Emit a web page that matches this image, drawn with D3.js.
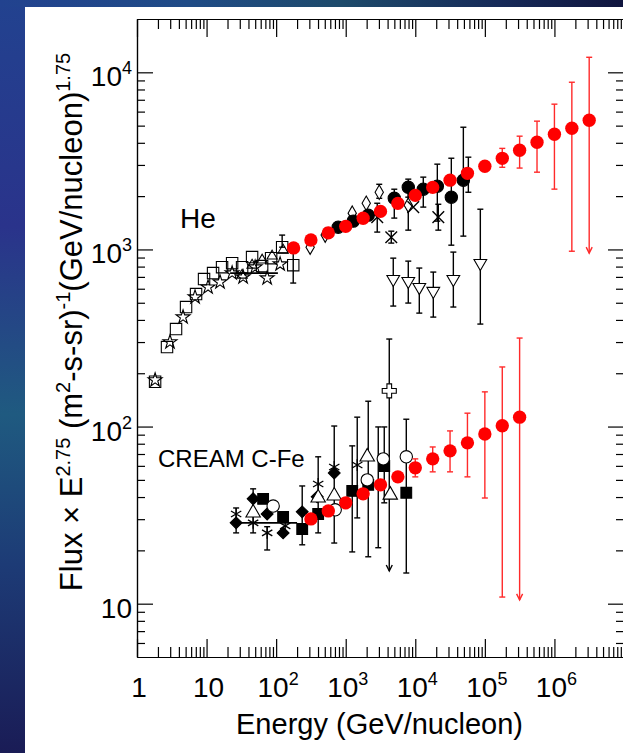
<!DOCTYPE html>
<html>
<head>
<meta charset="utf-8">
<script src="https://cdn.jsdelivr.net/npm/d3@7"></script>
<style>
  body { margin: 0; background: #fff; }
  svg { display: block; }
  text { font-family: "Liberation Sans", Arial, Helvetica, sans-serif; fill: #000; }
</style>
</head>
<body>
<svg id="chart"></svg>
<script>
// ---- data (E in GeV/nucleon, flux x E^2.75) ----
// CREAM helium (red)
const heCreamE = [178, 316, 562, 1000, 1780, 3160, 5620, 1e4, 1.78e4, 3.16e4, 5.62e4, 1e5, 1.78e5, 3.16e5, 5.62e5, 1e6, 1.78e6, 3.16e6];
const heCreamF = [1020, 1130, 1240, 1350, 1500, 1640, 1820, 2020, 2240, 2460, 2690, 2950, 3270, 3630, 4030, 4470, 4830, 5360];
const heCreamLo = [null, null, null, null, null, null, null, null, null, null, null, null, 2910, 2880, 2730, 2190, 977, 953];
const heCreamHi = [null, null, null, null, null, null, null, null, null, null, null, null, 3720, 4360, 5300, 6610, 8790, 12160];
const heCreamArrow = [17];

// CREAM C-Fe (red)
const cfeCreamE = [316, 562, 1000, 1780, 3160, 5620, 1e4, 1.78e4, 3.16e4, 5.62e4, 1e5, 1.78e5, 3.16e5];
const cfeCreamF = [30.1, 33.4, 37.1, 41.7, 46.9, 52.0, 58.5, 65.7, 72.9, 80.9, 90.8, 101, 113];
const cfeCreamLo = [null, null, null, null, null, null, 52.0, 55.5, 55.5, 52.0, 39.5, 10.9, 10.5];
const cfeCreamHi = [null, null, null, null, null, null, 65.7, 76.7, 94.5, 119, 157, 217, 316];
const cfeCreamArrow = [12];

// other helium measurements: [E, F, lo, hi]
const heSquares = [[1.82, 179], [2.70, 281], [3.64, 355], [5.07, 473], [7.06, 560], [9.2, 680], [12.4, 735], [16.7, 794], [23.3, 837], [32.4, 794], [45.1, 906], [62.9, 805], [84.7, 893], [122, 1030, 1030, 1205], [176, 815, 646, 953]];
const heStars = [[1.82, 183], [2.98, 300], [4.59, 415], [6.83, 538], [10.5, 612], [15.6, 654], [23.3, 735], [33.5, 698], [49.9, 794], [74.3, 689], [114, 826]];
const heTriangles = [[32.4, 716], [45.1, 815], [62.9, 871], [87.5, 917], [126, 991]];
const heHBar = [21.8, 106, 735];
const heCircles = [[780, 1336], [1282, 1445], [2108, 1562], [4990, 1945, 1503, 2188], [7930, 2244, 1973, 2494], [13030, 2187, 1734, 2560], [20740, 2275, 1445, 3030], [32960, 1973, 1057, 3273], [49080, 2460, 1189, 4898]];
const heDiamonds = [[308, 1030], [507, 1205], [1241, 1603], [1972, 1824], [3033, 2104, 1945, 2333], [7930, 1778, 1285, 2244]];
const heCrosses = [[2839, 1521, 1253, 1823], [4518, 1172, 1086, 1268], [9357, 1734], [21430, 1521, 1285, 1799]];
const heDownTri = [[4824, 680, 479, 893], [7930, 662, 498, 859], [11420, 612, 437, 785], [18150, 582, 415, 745], [35240, 680, 473, 966], [86100, 837, 379, 1687]];
const heBarsOnly = [[57900, 2693, 2103, 3318]];

// other C-Fe measurements: [E, F, lo, hi]
const cfeDiamonds = [[26.6, 28.6, 25.1, 34.7], [46.7, 39.1, 25.1, 44.5], [74.3, 32.1], [126, 25.1], [237, 33.0, 21.5, 46.2], [389, 40.1], [684, 54.7]];
const cfeStars = [[26.6, 32.1], [46.7, 28.6], [74.3, 25.1, 20.1, 27.2], [135, 27.5], [402, 47.4], [684, 59.1, 22.0, 100.7], [1464, 60.7, 30.5, 113]];
const cfeSquares = [[65.0, 39.1], [126, 30.9], [237, 26.4], [402, 32.1, 25.1, 67.5], [1241, 43.3, 19.6, 77.8], [2108, 46.9, 18.4, 139], [3581, 59.9, 37.1, 99.5], [7425, 42.3, 14.9, 110]];
const cfeTriangles = [[46.7, 32.6], [402, 39.6], [684, 40.6], [2039, 67.5], [4367, 41.1]];
const cfeCircles = [[90.6, 35.6], [706, 33.9], [2039, 50.0], [3464, 65.7], [7425, 67.5]];
const cfeCross = [[4227, 159, 15.3, 312]];
const cfeBarsOnly = [[2936, 45, 20.7, 99.5]];
const cfeHBar = [23.3, 200, 28.6];

const xTickLabels = [["1", null], ["10", null], ["10", "2"], ["10", "3"], ["10", "4"], ["10", "5"], ["10", "6"]];
const xTickValues = [1, 10, 1e2, 1e3, 1e4, 1e5, 1e6];
const yTickValues = [10, 1e2, 1e3, 1e4];
const yTickLabels = [["10", null], ["10", "2"], ["10", "3"], ["10", "4"]];

// ---- layout ----
const width = 623, height = 753;
const plotLeft = 137, plotRight = 624, plotTop = 19, plotBottom = 657;

const svg = d3.select('#chart').attr('width', width).attr('height', height);

// slide background
const defs = svg.append('defs');
const gv = defs.append('linearGradient').attr('id', 'bgv').attr('x1', 0).attr('y1', 0).attr('x2', 0).attr('y2', 1);
[['0', '#22428f'], ['0.3', '#2a338b'], ['0.55', '#1f5a80'], ['0.75', '#1d3b76'], ['1', '#1a1c56']]
  .forEach(([o, c]) => gv.append('stop').attr('offset', o).attr('stop-color', c));
const gh = defs.append('linearGradient').attr('id', 'bgh').attr('x1', 0).attr('y1', 0).attr('x2', 1).attr('y2', 0);
[['0', '#22428f'], ['0.3', '#1f4b86'], ['0.55', '#1d4a6a'], ['0.8', '#162a58'], ['1', '#10153e']]
  .forEach(([o, c]) => gh.append('stop').attr('offset', o).attr('stop-color', c));
svg.append('rect').attr('width', width).attr('height', height).attr('fill', 'url(#bgv)');
svg.append('rect').attr('width', width).attr('height', 7).attr('fill', 'url(#bgh)');
svg.append('rect').attr('x', 25).attr('y', 7).attr('width', width - 25).attr('height', height - 7).attr('fill', '#fff');

const x = d3.scaleLog().domain([1, 1e7]).range([plotLeft, plotRight]);
const y = d3.scaleLog().domain([5, 20000]).range([plotBottom, plotTop]);

function minors(lo, hi) {
  const out = [];
  for (let d = lo; d < hi; d *= 10) for (let m = 2; m <= 9; m++) out.push(m * d);
  return out;
}
const xMinor = minors(1, 1e7);
const yMinor = minors(1, 1e4).filter(v => v > 5 && v < 20000);

const axisStyle = g => g.call(s => s.selectAll('line, path').attr('stroke', '#000').attr('stroke-width', 1.2))
  .call(s => s.selectAll('text').remove());

svg.append('g').attr('transform', `translate(0,${plotBottom})`)
  .call(d3.axisBottom(x).tickValues(xTickValues).tickSize(-18).tickSizeOuter(0)).call(axisStyle);
svg.append('g').attr('transform', `translate(0,${plotBottom})`)
  .call(d3.axisBottom(x).tickValues(xMinor).tickSize(-10).tickSizeOuter(0)).call(axisStyle);
svg.append('g').attr('transform', `translate(0,${plotTop})`)
  .call(d3.axisTop(x).tickValues(xTickValues).tickSize(-18).tickSizeOuter(0)).call(axisStyle);
svg.append('g').attr('transform', `translate(0,${plotTop})`)
  .call(d3.axisTop(x).tickValues(xMinor).tickSize(-10).tickSizeOuter(0)).call(axisStyle);
svg.append('g').attr('transform', `translate(${plotLeft},0)`)
  .call(d3.axisLeft(y).tickValues(yTickValues).tickSize(-16).tickSizeOuter(0)).call(axisStyle);
svg.append('g').attr('transform', `translate(${plotLeft},0)`)
  .call(d3.axisLeft(y).tickValues(yMinor).tickSize(-8).tickSizeOuter(0)).call(axisStyle);
svg.append('g').attr('transform', `translate(${plotRight},0)`)
  .call(d3.axisRight(y).tickValues(yTickValues).tickSize(-16).tickSizeOuter(0)).call(axisStyle);
svg.append('g').attr('transform', `translate(${plotRight},0)`)
  .call(d3.axisRight(y).tickValues(yMinor).tickSize(-8).tickSizeOuter(0)).call(axisStyle);

// tick labels with superscripts
function powLabel(sel, base, exp) {
  sel.append('tspan').text(base);
  if (exp) sel.append('tspan').attr('dy', -12).style('font-size', '18px').text(exp);
}
xTickValues.forEach((v, i) => {
  const t = svg.append('text').attr('x', x(v) + 2).attr('y', 697)
    .attr('text-anchor', 'middle').style('font-size', '28px');
  powLabel(t, xTickLabels[i][0], xTickLabels[i][1]);
});
yTickValues.forEach((v, i) => {
  const t = svg.append('text').attr('x', 132).attr('y', y(v) + 14)
    .attr('text-anchor', 'end').style('font-size', '28px');
  powLabel(t, yTickLabels[i][0], yTickLabels[i][1]);
});

svg.append('text').attr('x', (plotLeft + plotRight) / 2 - 1).attr('y', 734)
  .attr('text-anchor', 'middle').style('font-size', '29px').text('Energy (GeV/nucleon)');

const yt = svg.append('text').attr('transform', 'translate(82,322) rotate(-90)')
  .attr('text-anchor', 'middle').style('font-size', '31px');
yt.append('tspan').text('Flux \u00d7 E');
yt.append('tspan').attr('dy', -12).style('font-size', '20px').text('2.75');
yt.append('tspan').attr('dy', 12).text(' (m');
yt.append('tspan').attr('dy', -12).style('font-size', '20px').text('2');
yt.append('tspan').attr('dy', 12).text('-s-sr)');
yt.append('tspan').attr('dy', -12).style('font-size', '20px').text('-1');
yt.append('tspan').attr('dy', 12).text('(GeV/nucleon)');
yt.append('tspan').attr('dy', -12).style('font-size', '20px').text('1.75');

svg.append('text').attr('x', 180).attr('y', 228).style('font-size', '28px').text('He');
svg.append('text').attr('x', 158).attr('y', 467).style('font-size', '24px').text('CREAM C-Fe');

// ---- marks ----
const plot = svg.append('g');

function errBars(rows, color, arrows) {
  rows.forEach((r, i) => {
    const [E, , lo, hi] = r;
    if (lo == null || hi == null) return;
    const cx = x(E), y1 = y(hi), y2 = y(lo);
    const g = plot.append('g').attr('stroke', color).attr('stroke-width', 1.4).attr('fill', 'none');
    g.append('line').attr('x1', cx).attr('x2', cx).attr('y1', y1).attr('y2', y2);
    g.append('line').attr('x1', cx - 3).attr('x2', cx + 3).attr('y1', y1).attr('y2', y1);
    if (arrows && arrows.includes(i)) {
      g.append('path').attr('d', `M${cx - 3},${y2 - 6}L${cx},${y2}L${cx + 3},${y2 - 6}`);
    } else {
      g.append('line').attr('x1', cx - 3).attr('x2', cx + 3).attr('y1', y2).attr('y2', y2);
    }
  });
}

function points(rows, type, size, opts) {
  const o = Object.assign({ fill: 'none', stroke: '#000', rotate: 0, sw: 1.1 }, opts || {});
  const sym = d3.symbol().type(type).size(size);
  plot.selectAll(null).data(rows).enter().append('path')
    .attr('d', sym)
    .attr('transform', d => `translate(${x(d[0])},${y(d[1])}) rotate(${o.rotate})`)
    .attr('fill', o.fill).attr('stroke', o.stroke).attr('stroke-width', o.sw);
}

function hBar(b) {
  plot.append('line').attr('x1', x(b[0])).attr('x2', x(b[1])).attr('y1', y(b[2])).attr('y2', y(b[2]))
    .attr('stroke', '#000').attr('stroke-width', 1.6);
}

const asterisk = d3.symbolAsterisk || d3.symbolCross;
const times = d3.symbolTimes || d3.symbolX || d3.symbolCross;

// helium, other experiments
hBar(heHBar);
errBars(heSquares, '#000');
errBars(heCircles, '#000');
errBars(heDiamonds, '#000');
errBars(heCrosses, '#000');
errBars(heDownTri, '#000');
errBars(heBarsOnly, '#000');
points(heStars, d3.symbolStar, 60);
points(heTriangles, d3.symbolTriangle, 45);
points(heSquares, d3.symbolSquare, 130);
points(heDiamonds, d3.symbolDiamond, 60, { fill: '#fff' });
points(heCircles, d3.symbolCircle, 120, { fill: '#000' });
points(heCrosses, times, 90, { sw: 1.4 });
points(heDownTri, d3.symbolTriangle, 70, { rotate: 180, fill: '#fff' });

// C-Fe, other experiments
hBar(cfeHBar);
[cfeDiamonds, cfeStars, cfeSquares, cfeTriangles, cfeCircles, cfeBarsOnly].forEach(r => errBars(r, '#000'));
errBars(cfeCross, '#000', [0]);
points(cfeDiamonds, d3.symbolSquare, 70, { fill: '#000', rotate: 45 });
points(cfeStars, asterisk, 100, { sw: 1.3 });
points(cfeSquares, d3.symbolSquare, 115, { fill: '#000' });
points(cfeTriangles, d3.symbolTriangle, 90, { fill: '#fff' });
points(cfeCircles, d3.symbolCircle, 120, { fill: '#fff' });
points(cfeCross, d3.symbolCross, 110, { fill: '#fff' });

// CREAM (red)
const heCream = heCreamE.map((e, i) => [e, heCreamF[i], heCreamLo[i], heCreamHi[i]]);
const cfeCream = cfeCreamE.map((e, i) => [e, cfeCreamF[i], cfeCreamLo[i], cfeCreamHi[i]]);
errBars(heCream, '#ff2a2a', heCreamArrow);
errBars(cfeCream, '#ff2a2a', cfeCreamArrow);
points(heCream, d3.symbolCircle, 140, { fill: '#ff0000', stroke: 'none' });
points(cfeCream, d3.symbolCircle, 140, { fill: '#ff0000', stroke: 'none' });
</script>
</body>
</html>
